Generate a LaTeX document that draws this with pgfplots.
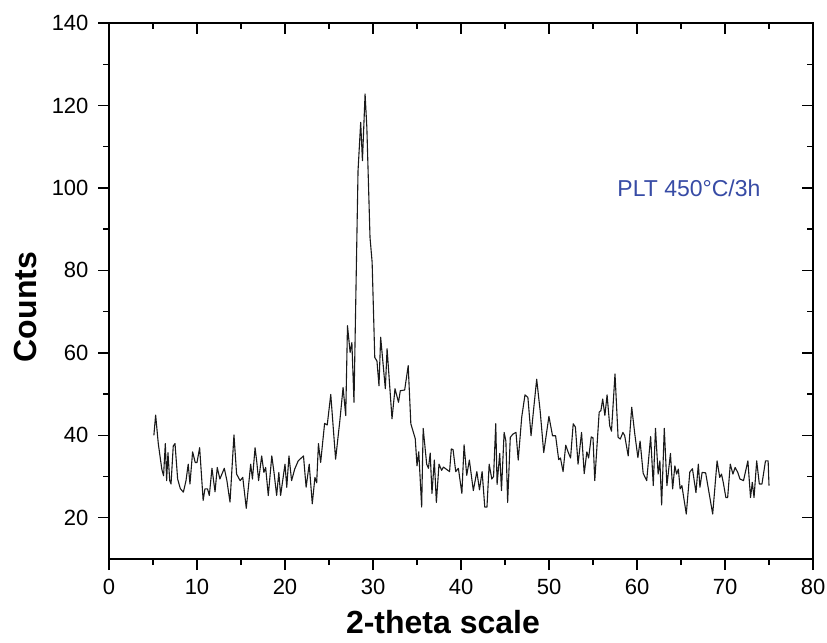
\documentclass[border=0pt]{standalone}
\usepackage{pgfplots}
\pgfplotsset{compat=1.18}
\usepackage{fontspec}
\setmainfont{Liberation Sans}
\definecolor{lbl}{RGB}{55,75,165}
\pgfplotstableread{
x y
5.1 40
5.3 44.9
5.6 38
6.0 31.8
6.2 30.2
6.4 38
6.55 29
6.7 35.8
6.9 29
7.05 28.2
7.3 37.4
7.5 38
7.8 29.4
8.1 27.1
8.45 26.2
8.75 29
9.0 33
9.2 28.2
9.5 36
9.8 33.4
10.0 33.4
10.3 37
10.7 24.2
10.9 27
11.2 27
11.4 25.4
11.7 32
12.05 26.3
12.3 32.2
12.6 29.4
13.1 32
13.4 29
13.75 23.8
14.2 40.1
14.5 30.6
14.9 29
15.2 29.8
15.6 22.3
16.1 33
16.3 29.4
16.6 37
16.8 33.4
17.0 29
17.35 35
17.6 31
17.8 32.2
18.1 25.4
18.5 35
18.75 31
19.05 25.4
19.3 31
19.5 25.4
20.0 33
20.2 27.4
20.45 35
20.75 29
21.1 31.8
21.5 33.8
22.1 35
22.4 27.4
22.75 33
23.1 23.4
23.4 29.8
23.6 28.5
23.8 38
24.05 33.4
24.5 42.9
24.8 42.5
25.2 49.9
25.75 34.2
26.25 43.9
26.6 51.6
26.9 44.8
27.1 66.6
27.4 60.1
27.6 62.5
27.84 48
28.3 104.2
28.6 115.9
28.8 106.6
29.1 122.8
29.3 114.7
29.66 88
29.9 82
30.2 58.9
30.45 58
30.68 52
30.87 63.8
31.4 51.3
31.6 61
32.16 44
32.5 51.3
32.9 48
33.1 50.8
33.6 51
34.0 56.9
34.3 42.8
34.8 39.2
35.0 32.6
35.2 36
35.53 22.6
35.7 41.7
36.1 33
36.3 32
36.5 35.7
36.7 25.9
36.97 34
37.2 23.7
37.5 33
37.8 31.5
38.0 32.3
38.7 31.2
38.9 36.7
39.1 36.5
39.4 31.2
39.7 32
40.1 25.9
40.35 37.7
40.65 30.3
40.95 34
41.4 26.6
41.8 31.2
42.1 26.8
42.4 31.2
42.7 22.6
42.95 22.6
43.2 33
43.5 29.4
43.7 30
43.95 42.8
44.1 28.1
44.4 35.6
44.6 26.6
44.9 40.7
45.1 38.6
45.3 23.7
45.6 39.5
45.9 40.3
46.25 40.7
46.5 34
46.9 44.4
47.27 49.8
47.6 49.2
47.96 39.9
48.2 45.2
48.6 53.6
49.0 45.8
49.4 35.8
49.99 44.6
50.4 39.9
50.75 39.9
51.1 34.1
51.3 34.5
51.6 31.2
51.9 37.6
52.2 35.8
52.45 34.5
52.75 42.8
53.0 42
53.3 33
53.7 40.7
54.0 30.7
54.3 36
54.5 34.5
54.8 39.6
55.0 39.4
55.2 29
55.7 45.6
55.9 46
56.1 48.8
56.35 44.8
56.6 49.8
56.9 42.3
57.1 41
57.5 54.9
57.85 39.5
58.1 39.1
58.4 40.7
58.6 39.9
59.0 35
59.4 46.8
59.75 40.3
60.1 34.6
60.35 38.6
60.7 30.8
61.1 29
61.55 39.7
61.85 27.8
62.1 41.7
62.4 30.6
62.6 33.8
62.8 23.1
63.1 41.7
63.4 27.8
63.8 35.6
64.05 27
64.3 32.6
64.5 30.6
64.7 31.8
64.9 27
65.1 27.8
65.6 20.9
66.0 31.1
66.3 31.9
66.7 26.1
66.97 33
67.15 27.4
67.4 31
67.8 30.9
68.6 20.9
69.1 33.8
69.4 29.8
69.6 30.6
69.8 28.6
70.1 24.9
70.3 24.9
70.6 33
70.9 30.6
71.15 32.2
71.45 31
71.7 29.4
72.1 29
72.6 33.8
72.9 24.9
73.1 28.6
73.3 24.9
73.6 33.8
73.9 28.2
74.2 28.2
74.6 33.8
74.9 33.8
75.0 27.8
}\xrd
\begin{document}
\begin{tikzpicture}
\pgfplotsset{
  common/.style={
    width=704pt, height=536pt, scale only axis,
    xmin=0, xmax=80, ymin=10, ymax=140,
    xtick={0,10,...,80}, ytick={20,40,...,140},
    minor xtick={5,15,...,75}, minor ytick={30,50,...,130},
    axis line style={line width=1.5pt},
    major tick length=11pt, minor tick length=6pt,
    every tick/.style={black, line width=1.4pt},
    /pgf/number format/assume math mode=true,
    ticklabel style={font=\fontsize{22}{22}\selectfont},
  }
}
\begin{axis}[common,
    name=main,
    xtick pos=bottom, ytick pos=left, tick align=outside,
    xticklabel style={yshift=-6pt},
    yticklabel style={xshift=-6pt},
    xlabel={\textbf{2-theta scale}},
    ylabel={\textbf{Counts}},
    label style={font=\fontsize{32}{32}\selectfont},
    xlabel style={at={(axis description cs:0.4744,-0.1175)}, anchor=center},
    ylabel style={at={(axis description cs:-0.1193,0.47)}, anchor=center},
]
\addplot[black!90, line width=1.1pt, line join=round] table[x=x,y=y] {\xrd};
\node[text=lbl, font=\fontsize{23}{23}\selectfont] at (axis cs:65.9,100) {PLT 450\textdegree C/3h};
\end{axis}
\begin{axis}[common,
    xtick pos=top, ytick pos=right, tick align=inside,
    xticklabels={}, yticklabels={},
]
\end{axis}
\pgfresetboundingbox
\path[use as bounding box] ([xshift=-109pt,yshift=-83pt]main.south west) rectangle ([xshift=14pt,yshift=23pt]main.north east);
\end{tikzpicture}
\end{document}
